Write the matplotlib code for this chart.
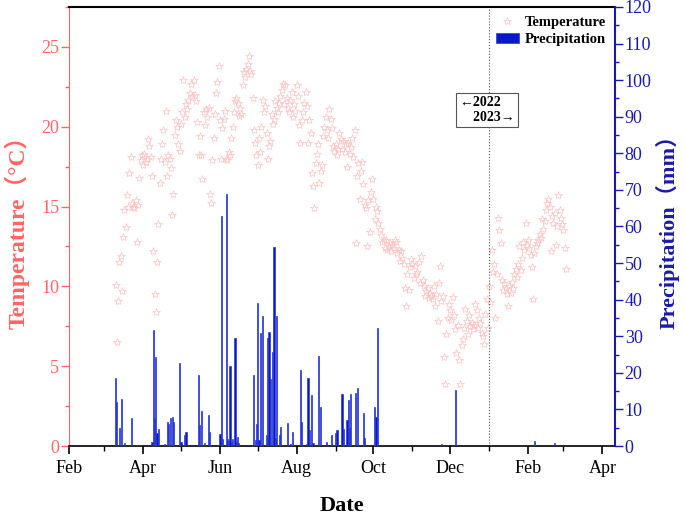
import matplotlib
matplotlib.use('Agg')
import matplotlib.pyplot as plt
import matplotlib.dates as mdates
from matplotlib.ticker import MultipleLocator
import pandas as pd

plt.rcParams['font.family'] = ['Liberation Serif', 'Noto Sans CJK SC', 'DejaVu Sans']

# daily mean temperature, first value is 2022-03-10
temp_start = '2022-03-10'
temperature = [
    10.1, 6.5, 9.1, 11.5, 11.9, 9.7, 13.1, 14.8, 13.7, 15.7,
    15.0, 17.1, 18.1, 15.2, 15.0, 14.9, 15.4, 12.8, 15.1, 16.8,
    17.9, 18.2, 17.6, 18.3, 17.8, 18.0, 19.2, 18.8, 18.1, 16.9,
    12.2, 9.5, 8.4, 11.5, 13.9, 16.5, 18.0, 18.9, 19.8, 17.8,
    21.0, 16.9, 18.2, 18.0, 17.4, 14.5, 15.8, 19.5, 20.4, 20.0,
    18.9, 18.5, 20.2, 20.9, 22.9, 20.6, 21.4, 21.1, 21.7, 22.1,
    22.7, 21.9, 22.9, 22.0, 21.6, 20.3, 18.2, 19.4, 18.2, 16.7,
    20.9, 20.1, 21.1, 20.6, 21.2, 15.8, 15.2, 17.9, 19.3, 20.8,
    22.1, 22.8, 23.8, 20.4, 18.0, 19.9, 20.5, 21.0, 18.0, 17.9,
    18.4, 18.2, 19.3, 20.0, 20.9, 21.6, 21.8, 21.5, 20.7, 21.2,
    20.8, 22.6, 23.4, 23.1, 23.6, 23.9, 24.4, 23.5, 23.3, 21.8,
    19.8, 19.0, 18.2, 17.6, 19.3, 18.4, 20.0, 21.7, 20.9, 21.3,
    19.6, 18.0, 18.8, 19.1, 20.8, 20.2, 20.5, 21.6, 21.2, 20.9,
    21.5, 21.9, 22.3, 22.7, 21.4, 22.6, 21.8, 21.2, 20.9, 21.7,
    22.2, 20.6, 21.4, 21.0, 22.6, 21.9, 20.1, 19.0, 20.4, 20.9,
    21.5, 22.2, 21.3, 19.0, 20.4, 19.6, 17.1, 16.3, 14.9, 17.7,
    18.3, 18.9, 16.5, 17.2, 17.6, 19.4, 20.0, 20.6, 19.8, 19.3,
    21.1, 20.5, 19.9, 18.8, 18.5, 18.9, 18.2, 18.6, 19.6, 19.2,
    18.6, 19.1, 18.4, 18.9, 17.5, 19.0, 18.3, 18.7, 19.3, 18.1,
    19.8, 12.7, 16.9, 17.7, 15.5, 17.2, 17.8, 16.4, 15.1, 14.9,
    12.5, 15.4, 13.4, 15.9, 16.7, 15.5, 14.2, 15.0, 14.7, 14.0,
    13.6, 13.2, 12.8, 12.9, 12.4, 12.9, 12.3, 12.5, 12.7, 12.2,
    12.6, 12.4, 12.9, 12.8, 12.1, 12.3, 11.6, 12.2, 11.8, 11.4,
    9.9, 8.8, 10.8, 9.8, 11.2, 11.7, 11.4, 10.5, 11.3, 10.8,
    10.9, 11.5, 10.2, 11.9, 10.4, 10.0, 9.4, 9.7, 9.9, 9.3,
    9.6, 9.4, 9.2, 10.0, 8.8, 9.5, 7.8, 10.2, 11.3, 9.1,
    9.4, 5.6, 3.9, 7.0, 8.0, 8.9, 8.5, 7.9, 9.35, 8.2,
    7.3, 5.8, 7.6, 5.4, 3.9, 6.3, 6.7, 7.4, 8.6, 7.8,
    7.0, 8.2, 7.5, 7.7, 7.3, 7.6, 8.9, 8.5, 7.4, 8.0,
    7.7, 7.1, 6.9, 6.4, 8.3, 9.2, 7.4, 10.0, 9.0, 12.3,
    10.9, 11.4, 8.0, 10.8, 14.3, 13.5, 12.7, 10.4, 9.8, 10.2,
    9.9, 9.5, 8.8, 10.0, 9.6, 10.3, 9.9, 10.8, 11.1, 10.6,
    11.4, 12.5, 11.0, 11.8, 12.8, 12.3, 13.95, 12.6, 12.9, 12.4,
    11.97, 11.2, 9.2, 12.1, 12.5, 12.7, 12.9, 13.3, 13.0, 14.2,
    13.6, 14.1, 14.8, 15.2, 15.5, 15.0, 12.2, 14.4, 14.0, 14.6,
    12.6, 13.8, 15.7, 14.8, 14.3, 13.9, 13.5, 12.4, 11.1,
]

precip_dates = [
    '2022-03-10', '2022-03-11', '2022-03-13', '2022-03-15', '2022-03-17',
    '2022-03-23', '2022-03-27', '2022-03-29',
    '2022-04-08', '2022-04-09', '2022-04-10', '2022-04-11', '2022-04-12',
    '2022-04-13', '2022-04-18', '2022-04-20', '2022-04-21', '2022-04-23',
    '2022-04-24', '2022-04-25', '2022-04-30',
    '2022-05-01', '2022-05-04', '2022-05-05', '2022-05-15', '2022-05-16',
    '2022-05-17', '2022-05-20', '2022-05-23', '2022-05-24',
    '2022-06-01', '2022-06-02', '2022-06-03', '2022-06-06', '2022-06-07',
    '2022-06-08', '2022-06-09', '2022-06-10', '2022-06-11', '2022-06-13',
    '2022-06-14', '2022-06-15', '2022-06-16', '2022-06-28', '2022-06-29',
    '2022-06-30',
    '2022-07-01', '2022-07-02', '2022-07-03', '2022-07-05', '2022-07-08',
    '2022-07-09', '2022-07-10', '2022-07-11', '2022-07-13', '2022-07-14',
    '2022-07-15', '2022-07-16', '2022-07-18', '2022-07-19', '2022-07-25',
    '2022-07-27', '2022-07-29',
    '2022-08-04', '2022-08-05', '2022-08-09', '2022-08-10', '2022-08-11',
    '2022-08-13', '2022-08-14', '2022-08-18', '2022-08-20', '2022-08-25',
    '2022-08-29',
    '2022-09-01', '2022-09-02', '2022-09-06', '2022-09-07', '2022-09-10',
    '2022-09-11', '2022-09-12', '2022-09-13', '2022-09-17', '2022-09-18',
    '2022-09-23', '2022-09-24',
    '2022-10-02', '2022-10-03', '2022-10-04',
    '2022-11-24', '2022-12-05', '2023-02-06', '2023-02-22',
]
precip_mm = [
    18.5, 11.9, 5.0, 12.9, 0.7,
    7.6, 0.3, 0.4,
    1.0, 31.7, 7.6, 24.2, 3.5,
    4.6, 0.5, 6.7, 6.0, 7.6,
    7.8, 6.7, 22.6,
    1.2, 3.0, 3.9, 19.3, 5.7,
    9.6, 0.7, 8.4, 3.9,
    3.3, 62.9, 1.8, 68.8, 1.8,
    1.5, 21.9, 1.2, 1.8, 29.4,
    1.2, 2.4, 0.9, 19.3, 1.6,
    6.0,
    39.0, 1.6, 30.8, 35.5, 3.0,
    29.4, 31.3, 18.2, 25.8, 54.3,
    2.1, 35.5, 3.0, 5.3, 6.2,
    0.5, 3.9,
    20.8, 6.7, 0.6, 18.5, 4.4,
    13.9, 0.7, 24.6, 10.8, 1.2,
    3.0,
    3.5, 4.4, 14.2, 4.6, 7.1,
    12.6, 4.8, 14.2, 14.6, 15.8,
    8.9, 2.1,
    10.8, 8.0, 32.2,
    0.5, 15.3, 1.4, 0.9,
]

temp_color = '#ff6666'
rain_color = '#1a1aa8'

temp_dates = pd.date_range(temp_start, periods=len(temperature), freq='D')
rain_dates = pd.to_datetime(precip_dates)

fig = plt.figure(figsize=(6.85, 5.17), dpi=100)
ax = fig.add_axes([0.1007, 0.1373, 0.7971, 0.8492])
ax2 = ax.twinx()

ax.plot(temp_dates, temperature, ls='none', marker='*', ms=6,
        mfc='none', mec='#ffc0c0', mew=0.5, label='Temperature')
ax2.bar(rain_dates, precip_mm, width=0.9, color='#0a18c8',
        edgecolor='#2a3ad8', linewidth=0.5, label='Precipitation')

ax.axvline(pd.Timestamp('2023-01-01'), color='#555555', ls=':', lw=0.8)
ax.text(0.7656, 0.765, '←2022\n    2023→', transform=ax.transAxes,
        ha='center', va='center', multialignment='left',
        fontsize=10, fontweight='bold',
        bbox=dict(boxstyle='square,pad=0.22', fc='white', ec='#555555', lw=0.8))

ax.set_xlim(pd.Timestamp('2022-02-01'), pd.Timestamp('2023-04-11'))
ax.set_ylim(0, 27.5)
ax2.set_ylim(0, 120)

ax.xaxis.set_major_locator(mdates.MonthLocator(bymonth=[2, 4, 6, 8, 10, 12]))
ax.xaxis.set_minor_locator(mdates.MonthLocator(bymonth=[1, 3, 5, 7, 9, 11]))
ax.xaxis.set_major_formatter(mdates.DateFormatter('%b'))
ax.set_yticks(range(0, 26, 5))
ax.yaxis.set_minor_locator(MultipleLocator(2.5))
ax2.set_yticks(range(0, 121, 10))
ax2.yaxis.set_minor_locator(MultipleLocator(5))

ax.tick_params(axis='x', which='major', length=6, width=1.2, labelsize=13, pad=4)
ax.tick_params(axis='x', which='minor', length=3.5, width=1)
ax.tick_params(axis='y', which='major', colors=temp_color, length=5.5, width=1,
               labelsize=13, pad=1.5)
ax.tick_params(axis='y', which='minor', colors=temp_color, length=3, width=1)
ax2.tick_params(axis='y', which='major', colors=rain_color, length=5.5, width=1,
                labelsize=13, pad=1.5)
ax2.tick_params(axis='y', which='minor', colors=rain_color, length=3, width=1)

ax.spines['left'].set_color(temp_color)
ax.spines['right'].set_visible(False)
ax.spines['top'].set_linewidth(1.5)
ax.spines['bottom'].set_linewidth(1.2)
ax2.spines['left'].set_visible(False)
ax2.spines['top'].set_visible(False)
ax2.spines['bottom'].set_visible(False)
ax2.spines['right'].set_color(rain_color)
ax2.spines['right'].set_linewidth(1.5)

ax.set_xlabel('Date', fontsize=16, fontweight='bold', labelpad=14)
ax.set_ylabel('Temperature（°C）', fontsize=17, fontweight='bold',
              color=temp_color, labelpad=8)
ax2.set_ylabel('Precipitation（mm）', fontsize=16, fontweight='bold',
               color=rain_color, labelpad=3)

h1, l1 = ax.get_legend_handles_labels()
h2, l2 = ax2.get_legend_handles_labels()
ax2.legend(h1 + h2, l1 + l2, loc='upper right', frameon=False,
           prop={'weight': 'bold', 'size': 10.5}, handlelength=1.6,
           handletextpad=0.4, labelspacing=0.25, borderaxespad=0.2,
           markerscale=1.0)

fig.savefig('out.png', dpi=100)
